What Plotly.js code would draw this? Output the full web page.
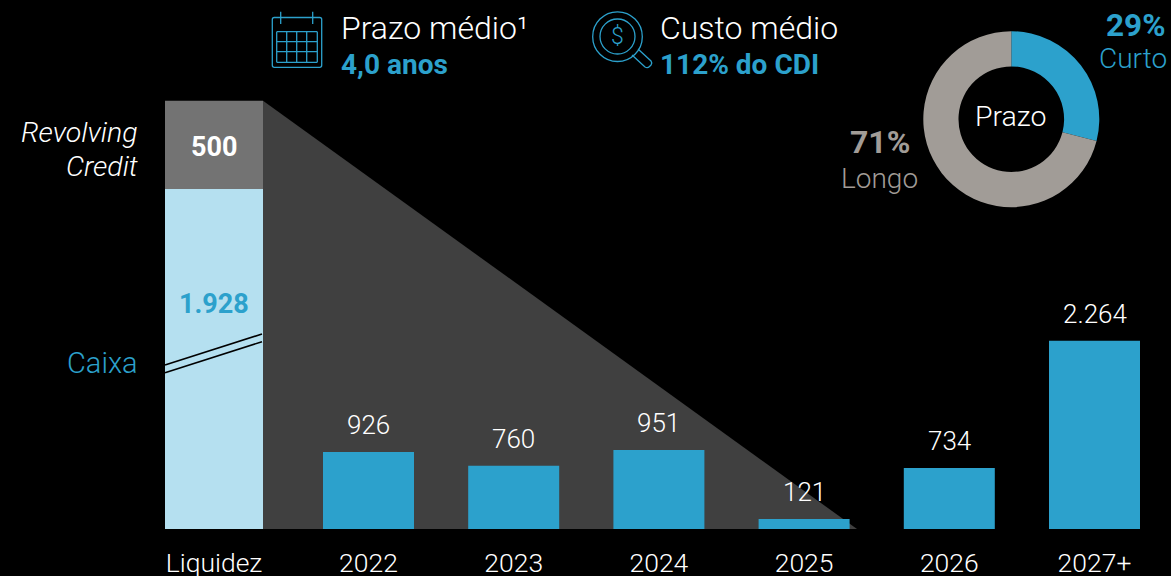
<!DOCTYPE html>
<html><head><meta charset="utf-8">
<script src="https://cdn.plot.ly/plotly-3.0.1.min.js"></script>
<style>html,body{margin:0;padding:0;background:#000;overflow:hidden}</style></head>
<body><div id="chart" style="width:1171px;height:576px"></div>
<script>
const years = ['2022','2023','2024','2025','2026','2027+'];
const maturities = [926,760,951,121,734,2264];
const liquidityLabel = 'Liquidez';
const cash = 1928;
const revolving = 500;
const termLabels = ['Curto','Longo'];
const termShares = [29,71];

const BLUE='#2ca1cc', LIGHT='#b5e0f0', GREY='#737373', DARK='#404040', STONE='#a19c97';
const FONT='Roboto';
const W=1171,H=576,base=529;
const pxX=145.2, x0px=368.5;
const liqX=(214-x0px)/pxX;
const fmt=v=>v.toLocaleString('de-DE');
const px=x=>x/W, py=y=>1-y/base;
const xr=[-x0px/pxX,(W-x0px)/pxX];
const yTop=base/0.0832, y2Top=base/0.1764;
const tickX=[liqX,...years.map((_,i)=>i)];

const traces=[
 {type:'bar',x:years.map((_,i)=>i),y:maturities,width:91/pxX,marker:{color:BLUE,line:{width:0}},hoverinfo:'none'},
 {type:'bar',x:[liqX],y:[cash],width:98/pxX,yaxis:'y2',marker:{color:LIGHT,line:{width:0}},hoverinfo:'none'},
 {type:'bar',x:[liqX],y:[revolving],base:[cash],width:98/pxX,yaxis:'y2',marker:{color:GREY,line:{width:0}},hoverinfo:'none'},
 {type:'pie',labels:termLabels,values:termShares,sort:false,direction:'clockwise',rotation:0,hole:0.6,
  marker:{colors:[BLUE,STONE],line:{width:0}},textinfo:'none',hoverinfo:'none',showlegend:false,
  domain:{x:[px(923.3),px(1099.3)],y:[py(207.2),py(31.2)]}}
];

function txt(x,y,text,size,color,opt={}){
 return {xref:'paper',yref:'paper',x:px(x),y:py(y),text,showarrow:false,
  font:{family:FONT,size,color,weight:opt.weight||300,style:opt.style||'normal'},
  xanchor:opt.anchor||'left',yanchor:'middle',borderpad:0};
}
const annotations=[
 ...maturities.map((v,i)=>({x:i,y:v,xref:'x',yref:'y',text:fmt(v),showarrow:false,yanchor:'bottom',yshift:10,
   font:{family:FONT,size:26,color:'#fff',weight:300}})),
 {x:liqX,y:cash+revolving/2,xref:'x',yref:'y2',text:fmt(revolving),showarrow:false,yshift:-2,font:{family:FONT,size:27,color:'#fff',weight:700}},
 {x:liqX,y:cash,xref:'x',yref:'y2',text:fmt(cash),showarrow:false,yshift:-115,font:{family:FONT,size:27,color:BLUE,weight:700}},
 txt(139,132.5,'Revolving',28.5,'#fff',{anchor:'right',style:'italic'}),
 txt(139,166,'Credit',28.5,'#fff',{anchor:'right',style:'italic'}),
 txt(139,363,'Caixa',29,BLUE,{anchor:'right'}),
 txt(340,28,'Prazo médio¹',32,'#fff'),
 txt(340,64,'4,0 anos',28,BLUE,{weight:700}),
 txt(659,28,'Custo médio',32,'#fff'),
 txt(659,64,'112% do CDI',28,BLUE,{weight:700}),
 txt(617.5,36.5,'$',23,BLUE,{anchor:'center'}),
 txt(1166,25,'29%',31.5,BLUE,{anchor:'right',weight:700}),
 txt(1168,59,termLabels[0],28,BLUE,{anchor:'right'}),
 txt(880,142,'71%',32,STONE,{anchor:'center',weight:700}),
 txt(879,178,termLabels[1],28,STONE,{anchor:'center'}),
 txt(1011,116.5,'Prazo',28.5,'#fff',{anchor:'center'})
];

function line(x1,y1,x2,y2,color,width){
 return {type:'line',xref:'paper',yref:'paper',x0:px(x1),y0:py(y1),x1:px(x2),y1:py(y2),line:{color,width}};
}
function pth(d,color,width){
 return {type:'path',xref:'paper',yref:'paper',path:d,line:{color,width}};
}
const P=(x,y)=>px(x)+','+py(y);
const ic=1.3;
const shapes=[
 {type:'path',xref:'x',yref:'y2',layer:'below',fillcolor:DARK,line:{width:0},
  path:`M ${liqX+49/pxX},${cash+revolving} L ${(857-x0px)/pxX},0 L ${liqX+49/pxX},0 Z`},
 line(165,365,262,334,'#000',1.6),
 line(165,372.7,262,341.7,'#000',1.6),
 pth(`M ${P(274.3,17.5)} L ${P(319.7,17.5)} Q ${P(321.7,17.5)} ${P(321.7,19.5)} L ${P(321.7,65.3)} Q ${P(321.7,67.3)} ${P(319.7,67.3)} L ${P(274.3,67.3)} Q ${P(272.3,67.3)} ${P(272.3,65.3)} L ${P(272.3,19.5)} Q ${P(272.3,17.5)} ${P(274.3,17.5)} Z`,BLUE,ic),
 line(280.7,11.7,280.7,24,BLUE,ic),
 line(312.7,11.7,312.7,24,BLUE,ic),
 ...[276.7,286.7,296.7,306.7,317.3].map(x=>line(x,31.7,x,62.3,BLUE,ic)),
 ...[31.7,41.7,51.7,62.3].map(y=>line(276.7,y,317.3,y,BLUE,ic)),
 {type:'circle',xref:'paper',yref:'paper',x0:px(592.7),x1:px(642.3),y0:py(61.5),y1:py(11.8),line:{color:BLUE,width:ic}},
 {type:'circle',xref:'paper',yref:'paper',x0:px(600),x1:px(635),y0:py(54),y1:py(19),line:{color:BLUE,width:ic}},
 pth(`M ${P(632,55)} L ${P(645,67)} Q ${P(647.5,68.5)} ${P(649.5,66.5)} L ${P(651,65)} Q ${P(652.5,63)} ${P(651,61)} L ${P(638,49)}`,BLUE,ic)
];

const axisOff={visible:false,fixedrange:true,showgrid:false,zeroline:false};
const layout={
 width:W,height:H,margin:{l:0,r:0,t:0,b:H-base,pad:0},
 paper_bgcolor:'#000',plot_bgcolor:'rgba(0,0,0,0)',showlegend:false,barmode:'overlay',
 font:{family:FONT,color:'#fff'},
 xaxis:{range:xr,tickmode:'array',tickvals:tickX,ticktext:[liquidityLabel,...years],ticks:'',ticklen:0,
  showgrid:false,zeroline:false,showline:false,fixedrange:true,ticklabelstandoff:15,
  tickfont:{family:FONT,size:26.5,color:'#fff',weight:300}},
 yaxis:Object.assign({range:[0,yTop]},axisOff),
 yaxis2:Object.assign({range:[0,y2Top],overlaying:'y'},axisOff),
 annotations,shapes
};
Plotly.newPlot('chart',traces,layout,{displayModeBar:false,staticPlot:true});
</script></body></html>
